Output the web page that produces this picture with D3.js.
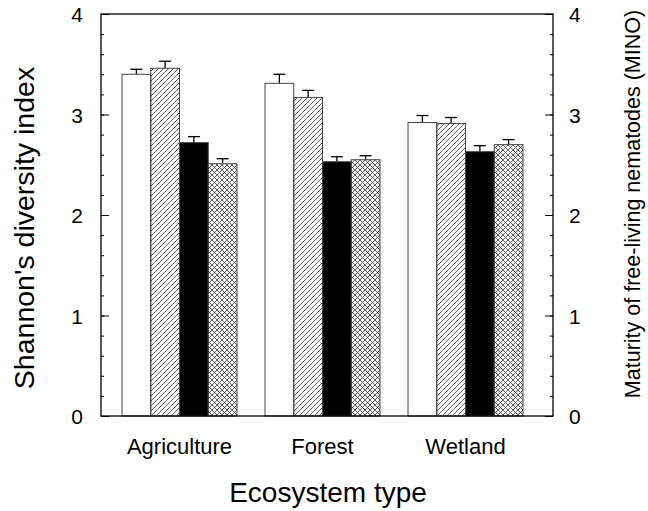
<!DOCTYPE html>
<html>
<head>
<meta charset="utf-8">
<script src="https://cdn.jsdelivr.net/npm/d3@7"></script>
<style>
  body { margin: 0; background: #fff; }
  text { font-family: "Liberation Sans", Arial, sans-serif; fill: #000; }
</style>
</head>
<body>
<div id="chart"></div>
<script>
// data
var ecosystems = ["Agriculture", "Forest", "Wetland"]
var series = ["s1", "s2", "s3", "s4"]
var means = [
    [3.40, 3.46, 2.72, 2.51],
    [3.31, 3.17, 2.53, 2.55],
    [2.92, 2.91, 2.63, 2.70]
]
var errors = [
    [0.05, 0.07, 0.06, 0.05],
    [0.09, 0.07, 0.05, 0.04],
    [0.07, 0.06, 0.06, 0.05]
]
var yTicks = [0, 1, 2, 3, 4]

var w = 648, h = 511
// plot box ("top" is taken on window, so use p* names)
var pLeft = 101, pRight = 553, pTop = 14, pBottom = 416

var svg = d3.select("#chart").append("svg")
    .attr("width", w)
    .attr("height", h)

// patterns for the fills
var defs = svg.append("defs")
var hatch = defs.append("pattern")
    .attr("id", "hatch")
    .attr("patternUnits", "userSpaceOnUse")
    .attr("width", 5).attr("height", 5)
hatch.append("path")
    .attr("d", "M-1,1 l2,-2 M0,5 l5,-5 M4,6 l2,-2")
    .attr("stroke", "#333").attr("stroke-width", 0.8)

var cross = defs.append("pattern")
    .attr("id", "cross")
    .attr("patternUnits", "userSpaceOnUse")
    .attr("width", 5).attr("height", 5)
cross.append("path")
    .attr("d", "M-1,1 l2,-2 M0,5 l5,-5 M4,6 l2,-2 M-1,4 l2,2 M0,0 l5,5 M4,-1 l2,2")
    .attr("stroke", "#333").attr("stroke-width", 0.8)

var fills = ["#fff", "url(#hatch)", "#000", "url(#cross)"]

var y = d3.scaleLinear().domain([0, 4]).range([pBottom, pTop])
var x0 = d3.scaleBand().domain(ecosystems).range([pLeft + 21, pRight - 30]).paddingInner(0.196)
var x1 = d3.scaleBand().domain(series).range([0, x0.bandwidth()])

// bars
var groups = svg.selectAll("g.group")
    .data(ecosystems)
    .enter()
    .append("g")
    .attr("class", "group")
    .attr("transform", function (d) { return "translate(" + x0(d) + ",0)" })

groups.each(function (eco, gi) {
    var g = d3.select(this)
    var rows = series.map(function (s, si) {
        return { s: s, v: means[gi][si], e: errors[gi][si], i: si }
    })
    // error bars (upper only)
    g.selectAll("line.err")
        .data(rows)
        .enter()
        .append("line")
        .attr("x1", function (d) { return x1(d.s) + x1.bandwidth() / 2 })
        .attr("x2", function (d) { return x1(d.s) + x1.bandwidth() / 2 })
        .attr("y1", function (d) { return y(d.v) })
        .attr("y2", function (d) { return y(d.v + d.e) })
        .attr("stroke", "#000").attr("stroke-width", 1.3)
    g.selectAll("line.cap")
        .data(rows)
        .enter()
        .append("line")
        .attr("x1", function (d) { return x1(d.s) + x1.bandwidth() / 2 - 6 })
        .attr("x2", function (d) { return x1(d.s) + x1.bandwidth() / 2 + 6 })
        .attr("y1", function (d) { return y(d.v + d.e) })
        .attr("y2", function (d) { return y(d.v + d.e) })
        .attr("stroke", "#000").attr("stroke-width", 1.3)
    g.selectAll("rect")
        .data(rows)
        .enter()
        .append("rect")
        .attr("x", function (d) { return x1(d.s) })
        .attr("y", function (d) { return y(d.v) })
        .attr("width", x1.bandwidth())
        .attr("height", function (d) { return y(0) - y(d.v) })
        .attr("fill", function (d) { return fills[d.i] })
        .attr("stroke", "#444").attr("stroke-width", 1)
})

// frame
svg.append("rect")
    .attr("x", pLeft).attr("y", pTop)
    .attr("width", pRight - pLeft).attr("height", pBottom - pTop)
    .attr("fill", "none").attr("stroke", "#000").attr("stroke-width", 1.3)

// axes with inward ticks
var minor = d3.range(0, 4.01, 0.2)
var yLeft = svg.append("g").attr("transform", "translate(" + pLeft + ",0)")
yLeft.call(d3.axisRight(y).tickValues(minor).tickSize(3).tickFormat(""))
yLeft.append("g").call(d3.axisRight(y).tickValues(yTicks).tickSize(8).tickFormat(""))
yLeft.selectAll(".domain").remove()
yLeft.selectAll("line").attr("stroke", "#000")

var yRight = svg.append("g").attr("transform", "translate(" + pRight + ",0)")
yRight.call(d3.axisLeft(y).tickValues(minor).tickSize(3).tickFormat(""))
yRight.append("g").call(d3.axisLeft(y).tickValues(yTicks).tickSize(8).tickFormat(""))
yRight.selectAll(".domain").remove()
yRight.selectAll("line").attr("stroke", "#000")

// tick labels
svg.selectAll("text.yl")
    .data(yTicks)
    .enter()
    .append("text")
    .attr("x", 83)
    .attr("y", function (d) { return y(d) + 8 })
    .attr("text-anchor", "end")
    .style("font-size", "21px")
    .text(function (d) { return d })

svg.selectAll("text.yr")
    .data(yTicks)
    .enter()
    .append("text")
    .attr("x", 569)
    .attr("y", function (d) { return y(d) + 8 })
    .attr("text-anchor", "start")
    .style("font-size", "21px")
    .text(function (d) { return d })

svg.selectAll("text.cat")
    .data(ecosystems)
    .enter()
    .append("text")
    .attr("x", function (d) { return x0(d) + x0.bandwidth() / 2 })
    .attr("y", 454)
    .attr("text-anchor", "middle")
    .style("font-size", "22px")
    .text(function (d) { return d })

// axis titles
svg.append("text")
    .attr("x", 328)
    .attr("y", 502)
    .attr("text-anchor", "middle")
    .style("font-size", "28px")
    .text("Ecosystem type")

svg.append("text")
    .attr("transform", "translate(34,228) rotate(-90)")
    .attr("text-anchor", "middle")
    .style("font-size", "28.5px")
    .text("Shannon's diversity index")

svg.append("text")
    .attr("transform", "translate(640,204) rotate(-90)")
    .attr("text-anchor", "middle")
    .style("font-size", "21.5px")
    .text("Maturity of free-living nematodes (MINO)")
</script>
</body>
</html>
